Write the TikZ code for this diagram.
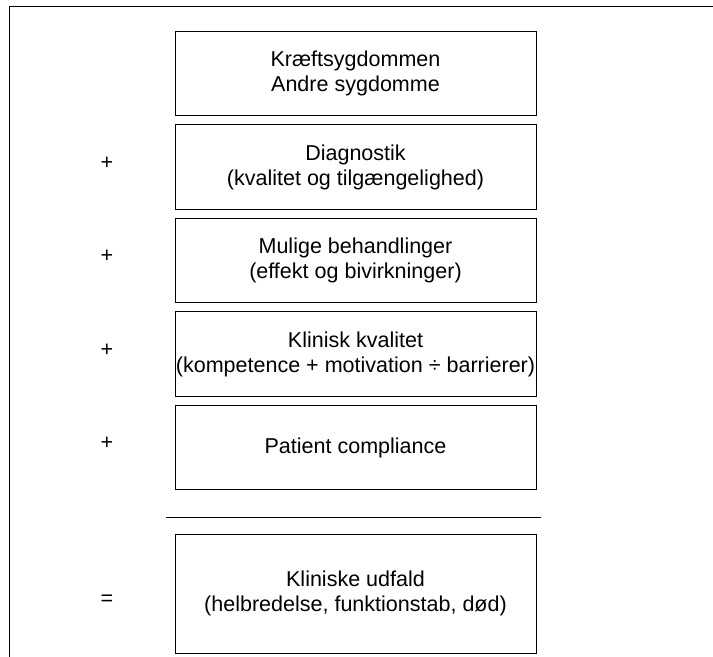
\documentclass[tikz,border=0pt]{standalone}
\usepackage{fontspec}
\setmainfont{Liberation Sans}
\usetikzlibrary{positioning}

\begin{document}
\begin{tikzpicture}[x=1bp, y=-1bp,
        boks/.style={draw, line width=1bp, minimum width=361bp, minimum height=84.5bp, inner sep=0pt, outer sep=0pt, align=center, font=\fontsize{21.6}{25}\selectfont},
        tegn/.style={font=\fontsize{21.6}{25}\selectfont}]
        \useasboundingbox (0,0) rectangle (713,657);
        \draw [line width=1bp] (9,657) -- (9,7) -- (713,7);
        \node [boks] (sygdom) at (355.5,73.5) {Kræftsygdommen\\Andre sygdomme};
        \node [boks, below=9bp of sygdom] (diagnostik) {Diagnostik\\(kvalitet og tilgængelighed)};
        \node [boks, below=9bp of diagnostik] (behandling) {Mulige behandlinger\\(effekt og bivirkninger)};
        \node [boks, below=9bp of behandling] (kvalitet) {Klinisk kvalitet\\(kompetence + motivation ÷ barrierer)};
        \node [boks, below=9bp of kvalitet] (compliance) {Patient compliance};
        \node [boks, minimum height=119bp, below=44.25bp of compliance] (udfald) {Kliniske udfald\\(helbredelse, funktionstab, død)};
        % streg over resultatet
        \coordinate (streg1) at ([xshift=-9bp, yshift=-27.25bp]compliance.south west);
        \coordinate (streg2) at ([xshift=5bp, yshift=-27.25bp]compliance.south east);
        \draw [line width=1bp] (streg1) -- (streg2);
        % tegn til venstre
        \node [tegn] (plus1) at ([xshift=-68bp, yshift=4bp]diagnostik.west) {+};
        \node [tegn] (plus2) at ([xshift=-68bp, yshift=4bp]behandling.west) {+};
        \node [tegn] (plus3) at ([xshift=-68bp, yshift=4bp]kvalitet.west) {+};
        \node [tegn] (plus4) at ([xshift=-68bp, yshift=4bp]compliance.west) {+};
        \node [tegn] (lig) at ([xshift=-68bp, yshift=-6.5bp]udfald.west) {=};
\end{tikzpicture}
\end{document}
